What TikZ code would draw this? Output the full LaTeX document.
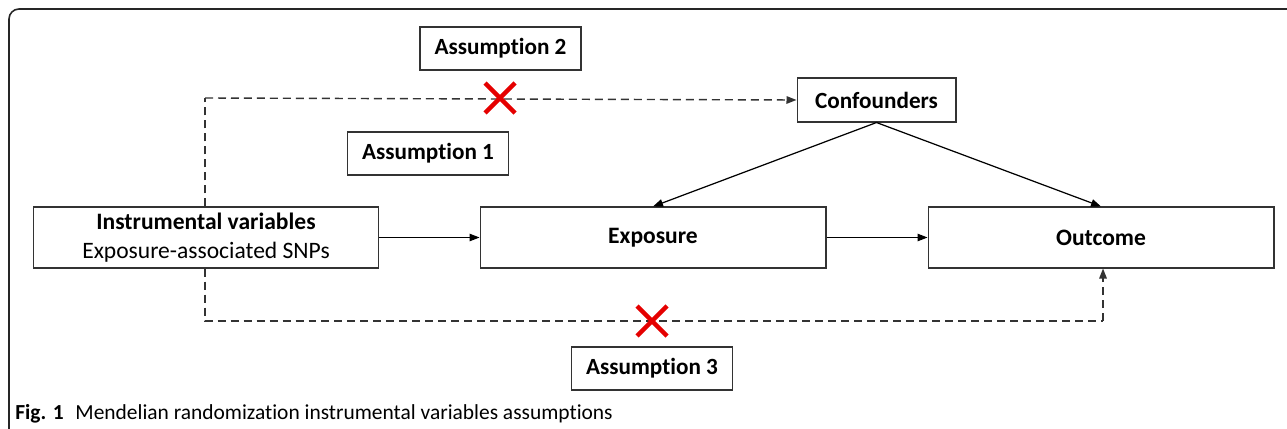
\documentclass[tikz,border=0pt]{standalone}
\usepackage{fontspec}
\setmainfont{Carlito}[Ligatures=NoCommon]
\usetikzlibrary{arrows.meta}
\begin{document}
\begin{tikzpicture}[x=0.02cm, y=-0.02cm,
		box/.style={draw=black!80, line width=0.6pt, fill=white, inner sep=0pt, minimum width=6.92cm, minimum height=1.22cm, font=\fontsize{13.4}{16.5}\selectfont, align=center},
		tag/.style={draw=black!80, line width=0.6pt, inner sep=0pt, minimum width=3.22cm, minimum height=0.86cm, font=\bfseries\fontsize{13.2}{15}\selectfont},
		link/.style={black, line width=0.7pt, -{Triangle[length=0.2cm, width=0.15cm]}},
		dlink/.style={black!80, line width=0.8pt, dash pattern=on 0.16cm off 0.1cm},
		cross/.style={red!90!black, line width=0.09cm}]
		\useasboundingbox (0, 0) rectangle (1287, 429);
		% frame
		\draw[black!85, line width=0.9pt, rounded corners=0.2cm] (1287, 9) -- (9, 9) -- (9, 429);
		% nodes
		\node[box] (iv) at (206, 237.5) {\textbf{Instrumental variables}\\Exposure-associated SNPs};
		\node[box] (expo) at (653, 237.5) {\textbf{Exposure}};
		\node[box] (outc) at (1101, 237.5) {\textbf{Outcome}};
		\node[tag, minimum width=3.18cm, minimum height=0.88cm] (conf) at (876.5, 100) {Confounders};
		\node[tag] (asm1) at (428, 153.5) {Assumption 1};
		\node[tag] (asm2) at (500.5, 48.5) {Assumption 2};
		\node[tag] (asm3) at (652, 368.5) {Assumption 3};
		\coordinate (ivtop) at (205, 98);
		\coordinate (ivbot) at (205, 321);
		\coordinate (outbot) at (1103, 321);
		% connectors
		\draw[link] (iv) -- (expo);
		\draw[link] (expo) -- (outc);
		\draw[link] (conf.south) -- (expo.north);
		\draw[link] (conf.south) -- (outc.north);
		\draw[dlink] (iv.north -| ivtop) -- (ivtop);
		\draw[dlink, -{Triangle[length=0.2cm, width=0.15cm]}] (ivtop) -- (conf.west);
		\draw[dlink] (iv.south -| ivbot) -- (ivbot) -- (outbot);
		\draw[dlink, -{Triangle[length=0.2cm, width=0.15cm]}] (outbot) -- (outc.south -| outbot);
		% crosses
		\draw[cross] (485, 83) -- (515, 113);
		\draw[cross] (485, 113) -- (515, 83);
		\draw[cross] (637, 306) -- (667, 336);
		\draw[cross] (637, 336) -- (667, 306);
		% caption
		\node[anchor=base west, inner sep=0pt, font=\fontsize{12.2}{14}\selectfont] (cap) at (15, 419) {\textbf{Fig. 1}\hspace{0.55em}Mendelian randomization instrumental variables assumptions};
\end{tikzpicture}
\end{document}
